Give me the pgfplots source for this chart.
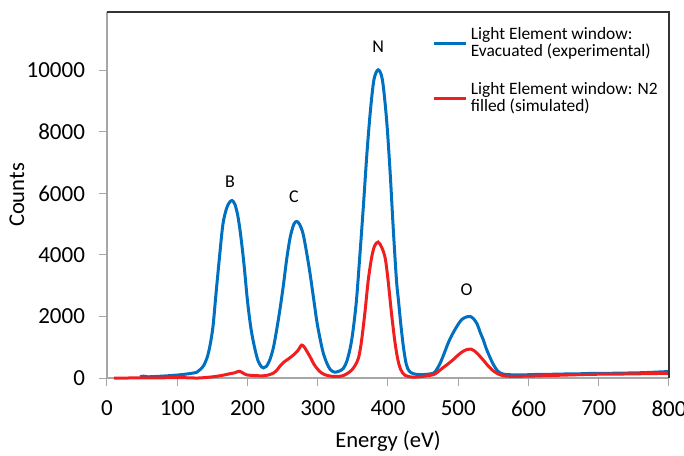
\documentclass[border=0pt]{standalone}
\usepackage{fontspec}
\setmainfont{Carlito}
\usepackage{pgfplots}
\pgfplotsset{compat=1.18}
\definecolor{cblue}{RGB}{0,112,192}
\definecolor{cred}{RGB}{240,30,30}
\begin{document}
\begin{tikzpicture}
\begin{axis}[name=ax, scale only axis, width=281pt, height=183pt,
 xmin=0, xmax=800, ymin=0, ymax=11900,
 xtick={0,100,...,800}, ytick={0,2000,...,10000},
 scaled y ticks=false, scaled x ticks=false,
 axis lines=left, axis line style={draw=black!35, line width=0.6pt, -},
 tick align=outside, major tick length=4pt, tick style={black!35, line width=0.5pt},
 tick label style={font=\fontsize{11.5}{13}\selectfont},
 yticklabel style={xshift=-3.5pt},
 xticklabel style={yshift=-4pt},
 /pgf/number format/assume math mode=true,
 /pgf/number format/1000 sep={},
 xlabel={Energy (eV)}, ylabel={Counts},
 label style={font=\fontsize{11.3}{13}\selectfont},
 xlabel style={at={(axis description cs:0.5,0)}, anchor=center, yshift=-31.5pt},
 ylabel style={at={([xshift=-45pt]axis description cs:0,0.5)}, anchor=center},
 clip=false,
 legend style={draw=none, fill=none, at={(rel axis cs:0.578,0.97)}, anchor=north west,
   font=\fontsize{8.7}{8.5}\selectfont, cells={anchor=west, align=left}, row sep=7.5pt, inner sep=0pt},
 legend image code/.code={\draw[#1, line width=1.3pt] (0pt,0pt) -- (16pt,0pt);},
]
\addplot[cblue, line width=1.5pt, smooth, tension=0.5] coordinates {
(47,40)(52,60)(58,40)(70,50)(85,70)(104,105)(120,150)(128,190)(133,280)(138,420)(143,700)(147,1100)
(151,1700)(155,2700)(160,3900)(165,5000)(170,5500)(174,5700)(178,5770)(182,5650)(186,5300)(190,4700)
(195,3700)(200,2500)(205,1600)(210,1000)(215,560)(220,360)(223,330)(227,380)(232,600)(237,1000)
(241,1500)(246,2200)(251,3000)(256,3900)(261,4600)(266,5000)(270,5090)(274,5000)(279,4700)(284,4100)
(289,3400)(294,2600)(299,1800)(304,1200)(308,800)(313,480)(318,270)(324,190)(330,220)(336,300)
(341,520)(346,950)(350,1500)(355,2500)(360,4000)(365,5600)(370,7300)(375,8700)(380,9700)(386,10020)
(392,9700)(398,8400)(403,6700)(407.5,4850)(412,3200)(415,2500)(418,1800)(422,1000)(426,450)(430,230)
(436,140)(445,110)(455,120)(465,160)(470,300)(475,520)(480,800)(485,1100)(490,1350)(495,1560)
(500,1750)(505,1900)(511,1980)(517,2000)(522,1920)(527,1750)(531,1500)(536,1220)(540,950)(545,680)
(550,440)(555,260)(560,160)(566,120)(575,105)(590,100)(610,115)(630,120)(650,130)(670,135)(690,150)
(710,150)(730,160)(750,165)(770,180)(790,200)(800,210)
};
\addlegendentry{Light Element window:\\Evacuated (experimental)}
\addplot[cred, line width=1.5pt, smooth, tension=0.5] coordinates {
(10,0)(30,0)(50,5)(70,5)(90,10)(110,10)(130,0)(151,40)(165,90)(175,140)(182,170)(188,220)(193,170)
(199,100)(210,80)(222,70)(230,100)(237,160)(242,260)(246,380)(252,520)(260,650)(266,760)(272,900)
(277,1070)(281,1000)(285,850)(290,650)(294,470)(299,310)(304,190)(310,110)(318,60)(328,50)(335,70)
(341,130)(348,250)(353,400)(358,650)(362,1150)(367,2100)(372,3200)(377,3950)(381,4300)(386,4420)
(391,4250)(396,3900)(400,3200)(405,2100)(410,1150)(414,600)(418,280)(424,90)(434,30)(445,40)
(455,70)(465,110)(472,220)(478,330)(485,450)(493,600)(500,750)(507,870)(513,930)(518,940)(523,880)
(528,780)(533,650)(538,520)(543,380)(550,230)(557,130)(565,70)(575,55)(600,60)(630,80)(660,100)
(690,120)(720,125)(750,135)(780,145)(800,155)
};
\addlegendentry{Light Element window: N2\\filled (simulated)}
\node[font=\fontsize{9}{10}\selectfont] at (axis cs:175,6380) {B};
\node[font=\fontsize{9}{10}\selectfont] at (axis cs:266,5890) {C};
\node[font=\fontsize{9}{10}\selectfont] at (axis cs:386,10770) {N};
\node[font=\fontsize{9}{10}\selectfont] at (axis cs:512,2870) {O};
\end{axis}
\draw[black!80, line width=1.2pt] (ax.north west) -- (ax.north east) -- (ax.south east);
\pgfresetboundingbox
\path ([shift={(-53.5pt,-38.5pt)}]ax.south west) rectangle ([shift={(7.5pt,6pt)}]ax.north east);
\end{tikzpicture}
\end{document}
